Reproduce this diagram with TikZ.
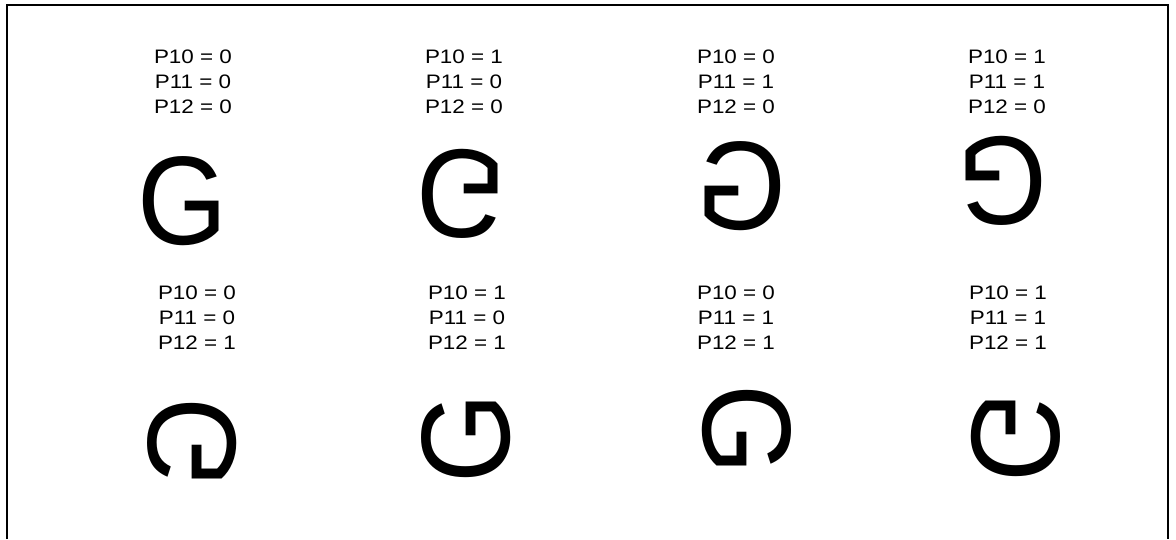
\documentclass[tikz,border=0pt]{standalone}
\usepackage{fontspec}
\setmainfont{Liberation Sans}
\newfontfamily\glyphfont{Liberation Sans}
\begin{document}
\begin{tikzpicture}[x=1pt,y=-1pt,
  lbl/.style={anchor=base,inner sep=0pt,font=\fontsize{19.5}{24}\selectfont},
  glyph/.style={inner sep=0pt,transform shape,font=\glyphfont\fontsize{126}{126}\selectfont}]
\useasboundingbox (0,0) rectangle (1176,539);
\draw[line width=2pt] (7,539) -- (7,5) -- (1168,5) -- (1168,539);
% labels: top row
\newcommand\labelblock[5]{%
  \node[lbl] (#1a) at (#2,#3) {\scalebox{1.15}[1]{P10 = #4}};
  \node[lbl] (#1b) at (#2,#3+25) {\scalebox{1.15}[1]{P11 = #5}};
}
\node[lbl] (l1a) at (193,63.3) {\scalebox{1.15}[1]{P10 = 0}};
\node[lbl] (l1b) at (193,88.3) {\scalebox{1.15}[1]{P11 = 0}};
\node[lbl] (l1c) at (193,113.3) {\scalebox{1.15}[1]{P12 = 0}};
\node[lbl] (l2a) at (464,63.3) {\scalebox{1.15}[1]{P10 = 1}};
\node[lbl] (l2b) at (464,88.3) {\scalebox{1.15}[1]{P11 = 0}};
\node[lbl] (l2c) at (464,113.3) {\scalebox{1.15}[1]{P12 = 0}};
\node[lbl] (l3a) at (736,63.3) {\scalebox{1.15}[1]{P10 = 0}};
\node[lbl] (l3b) at (736,88.3) {\scalebox{1.15}[1]{P11 = 1}};
\node[lbl] (l3c) at (736,113.3) {\scalebox{1.15}[1]{P12 = 0}};
\node[lbl] (l4a) at (1007,63.3) {\scalebox{1.15}[1]{P10 = 1}};
\node[lbl] (l4b) at (1007,88.3) {\scalebox{1.15}[1]{P11 = 1}};
\node[lbl] (l4c) at (1007,113.3) {\scalebox{1.15}[1]{P12 = 0}};
% labels: bottom row
\node[lbl] (l5a) at (197,299.3) {\scalebox{1.15}[1]{P10 = 0}};
\node[lbl] (l5b) at (197,324.3) {\scalebox{1.15}[1]{P11 = 0}};
\node[lbl] (l5c) at (197,349.3) {\scalebox{1.15}[1]{P12 = 1}};
\node[lbl] (l6a) at (467,299.3) {\scalebox{1.15}[1]{P10 = 1}};
\node[lbl] (l6b) at (467,324.3) {\scalebox{1.15}[1]{P11 = 0}};
\node[lbl] (l6c) at (467,349.3) {\scalebox{1.15}[1]{P12 = 1}};
\node[lbl] (l7a) at (736,299.3) {\scalebox{1.15}[1]{P10 = 0}};
\node[lbl] (l7b) at (736,324.3) {\scalebox{1.15}[1]{P11 = 1}};
\node[lbl] (l7c) at (736,349.3) {\scalebox{1.15}[1]{P12 = 1}};
\node[lbl] (l8a) at (1008,299.3) {\scalebox{1.15}[1]{P10 = 1}};
\node[lbl] (l8b) at (1008,324.3) {\scalebox{1.15}[1]{P11 = 1}};
\node[lbl] (l8c) at (1008,349.3) {\scalebox{1.15}[1]{P12 = 1}};
% glyphs
\begin{scope}[shift={(183,201.5)}]
  \node[glyph] (g1) at (0,0) {\scalebox{0.92}[1]{G}};
\end{scope}
\begin{scope}[shift={(462,193.5)},yscale=-1]
  \node[glyph] (g2) at (0,0) {\scalebox{0.92}[1]{G}};
\end{scope}
\begin{scope}[shift={(741,186)},xscale=-1]
  \node[glyph] (g3) at (0,0) {\scalebox{0.92}[1]{G}};
\end{scope}
\begin{scope}[shift={(1002,181)},rotate=180]
  \node[glyph] (g4) at (0,0) {\scalebox{0.92}[1]{G}};
\end{scope}
\begin{scope}[shift={(192,442.5)},cm={0,-1,-1,0,(0,0)}]
  \node[glyph] (g5) at (0,0) {\scalebox{0.92}[1]{G}};
\end{scope}
\begin{scope}[shift={(466,438)},rotate=90]
  \node[glyph] (g6) at (0,0) {\scalebox{0.92}[1]{G}};
\end{scope}
\begin{scope}[shift={(747,430)},rotate=-90]
  \node[glyph] (g7) at (0,0) {\scalebox{0.92}[1]{G}};
\end{scope}
\begin{scope}[shift={(1016,437.5)},cm={0,1,1,0,(0,0)}]
  \node[glyph] (g8) at (0,0) {\scalebox{0.92}[1]{G}};
\end{scope}
\end{tikzpicture}
\end{document}
